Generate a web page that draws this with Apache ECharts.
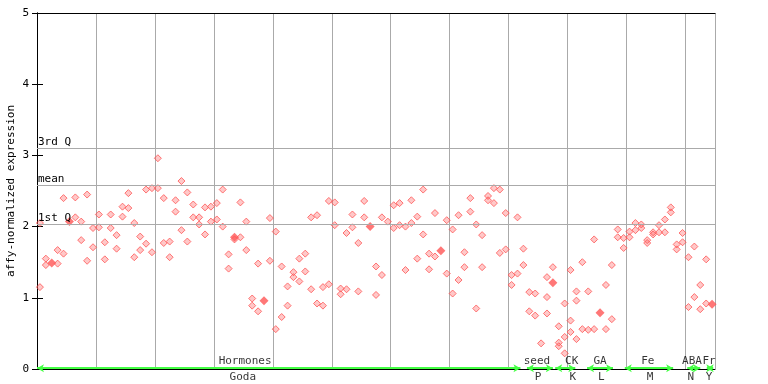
<!DOCTYPE html>
<html><head><meta charset="utf-8">
<script src="https://cdn.jsdelivr.net/npm/echarts@6/dist/echarts.min.js"></script>
<style>html,body{margin:0;padding:0;background:#fff}#c{width:768px;height:384px}</style>
</head><body><div id="c"></div>
<script>
// sample column index (0..114) and expression values of replicate points
const sampleCol = [0,0,1,1,3,3,4,4,6,6,7,7,8,8,9,9,10,10,11,11,12,12,13,13,14,14,15,15,16,16,17,17,18,18,19,19,20,20,21,21,22,22,23,23,24,24,25,25,26,26,27,27,28,28,29,29,30,30,31,31,32,32,33,34,34,35,35,36,36,37,37,39,39,40,40,41,41,42,42,43,43,44,44,45,45,46,46,47,47,48,48,49,49,50,50,51,51,52,52,53,53,54,54,55,55,57,57,58,58,59,60,60,61,61,62,62,63,63,64,64,65,65,66,66,67,67,69,69,70,70,71,71,72,72,73,73,74,74,75,75,76,76,77,77,78,78,79,79,80,80,81,81,82,82,83,83,84,84,85,86,86,86,87,88,88,88,89,89,89,90,90,90,91,91,91,92,92,93,93,94,94,96,96,97,97,98,98,99,99,100,100,101,101,102,102,103,103,104,104,105,105,106,106,107,107,108,108,109,109,110,110,111,111,112,112,113,113];
const sampleVal = [2.05,1.15,1.55,1.46,1.67,1.48,2.40,1.62,2.41,2.13,2.07,1.81,2.45,1.52,1.98,1.71,2.17,1.99,1.78,1.54,2.17,1.98,1.88,1.69,2.28,2.14,2.47,2.26,2.05,1.57,1.86,1.67,2.52,1.76,2.54,1.64,2.96,2.54,2.40,1.77,1.79,1.57,2.37,2.21,2.64,1.95,2.48,1.79,2.31,2.13,2.13,2.03,2.27,1.89,2.28,2.07,2.33,2.10,2.52,2.00,1.61,1.41,1.82,2.34,1.85,2.07,1.67,0.99,0.89,1.48,0.81,2.12,1.52,1.93,0.56,1.44,0.73,1.16,0.89,1.36,1.29,1.55,1.23,1.62,1.37,2.13,1.12,2.16,0.92,1.15,0.89,2.36,1.19,2.34,2.02,1.13,1.05,1.91,1.12,2.17,1.99,1.77,1.09,2.36,2.13,1.44,1.04,2.13,1.32,2.07,2.30,1.98,2.33,2.02,2.00,1.39,2.37,2.05,2.14,1.55,2.52,1.89,1.62,1.40,2.19,1.58,2.09,1.34,1.96,1.06,2.16,1.25,1.64,1.43,2.40,2.21,2.03,0.85,1.88,1.43,2.43,2.37,2.54,2.33,2.52,1.63,2.19,1.68,1.32,1.18,2.13,1.34,1.69,1.46,1.08,0.81,1.06,0.75,0.36,1.29,1.01,0.78,1.43,0.60,0.37,0.32,0.92,0.45,0.22,1.39,0.68,0.52,1.09,0.96,0.42,1.50,0.56,1.09,0.55,1.82,0.56,1.18,0.56,1.46,0.70,1.96,1.85,1.84,1.70,1.93,1.85,2.05,1.95,2.03,1.98,1.81,1.77,1.92,1.89,2.02,1.92,2.10,1.92,2.27,2.20,1.75,1.68,1.91,1.78,1.57,0.87,1.72,1.01,1.18,0.84,1.54,0.92];
// highlighted (filled) samples
const markCol = [2,5,33,38,56,68,87,95,114];
const markVal = [1.49,2.07,1.85,0.96,2.00,1.66,1.21,0.79,0.91];
// reference lines
const refNames = ['3rd Q','mean','1st Q'];
const refVals = [3.10,2.58,2.03];
// group ranges along the x axis (in column units)
const groupStart = [0,83.1,87.9,93.3,99.7,110.3,113.6];
const groupEnd = [82,87.5,91.3,97.7,107.9,112.5,114.7];
const topLabels = ['Hormones','seed','CK','GA','Fe','ABA','Fr'];
const topLabelPos = [35.3,84.8,90.7,95.5,103.6,111.1,114.0];
const bottomLabels = ['Goda','P','K','L','M','N','Y'];
const bottomLabelPos = [34.9,85.0,90.9,95.7,104.0,110.9,114.0];
const yTicks = [0,1,2,3,4,5];

const FONT = 'DejaVu Sans Mono';
const chart = echarts.init(document.getElementById('c'), null, {renderer:'canvas'});
const pts = sampleCol.map((c,i)=>[c+0.5, sampleVal[i]]);
const filled = markCol.map((c,i)=>[c+0.5, markVal[i]]);
const red = '#ff5555';
chart.setOption({
  animation:false,
  grid:{left:37,right:53,top:13,bottom:15,containLabel:false,outerBoundsMode:'none'},
  xAxis:[{type:'value',min:0,max:115,interval:10,
    axisLine:{show:true,onZero:false,lineStyle:{color:'#000',width:1}},
    axisTick:{show:false},axisLabel:{show:false},
    splitLine:{show:true,lineStyle:{color:'#aaaaaa',width:1}}},
    {type:'value',position:'top',min:0,max:115,
    axisLine:{show:true,onZero:false,lineStyle:{color:'#000',width:1}},
    axisTick:{show:false},axisLabel:{show:false},splitLine:{show:false}}],
  yAxis:[{type:'value',min:yTicks[0],max:yTicks[yTicks.length-1],interval:1,
    name:'affy-normalized expression',nameLocation:'middle',nameGap:20,nameMoveOverlap:false,
    nameTextStyle:{fontFamily:FONT,fontSize:11,color:'#000'},
    axisLine:{show:true,lineStyle:{color:'#000'}},
    axisTick:{show:true,inside:true,length:6,lineStyle:{color:'#000'}},
    axisLabel:{fontFamily:FONT,fontSize:11,color:'#000',margin:8},
    splitLine:{show:false}},
    {type:'value',position:'right',min:0,max:5,interval:1,
    axisLine:{show:true,lineStyle:{color:'#000'}},
    axisTick:{show:true,inside:true,length:5,lineStyle:{color:'#000'}},
    axisLabel:{show:false},splitLine:{show:false}}],
  series:[
    {type:'scatter',data:pts,symbol:'diamond',symbolSize:7,
     itemStyle:{color:'rgba(255,85,85,0.4)',borderColor:red,borderWidth:1},
     z:3,
     markLine:{silent:true,symbol:'none',
       lineStyle:{color:'#aaaaaa',width:1,type:'solid'},
       label:{show:true,position:'insideStartTop',distance:[1,1],formatter:p=>p.name,
         fontFamily:FONT,fontSize:11,color:'#000'},
       data:refVals.map((v,i)=>({name:refNames[i],yAxis:v}))}},
    {type:'scatter',data:filled,symbol:'diamond',symbolSize:9,
     itemStyle:{color:red},z:4},
    {type:'scatter',data:[],silent:true,z:5,
     markLine:{silent:true,symbol:['arrow','arrow'],symbolSize:[6,7],
       lineStyle:{color:'#44ff44',width:2,type:'solid'},label:{show:false},
       data:groupStart.map((s,i)=>[{coord:[s,0.012]},{coord:[groupEnd[i],0.012]}])}},
    {type:'scatter',silent:true,symbolSize:1,itemStyle:{color:'transparent'},clip:false,z:6,
     labelLayout:{hideOverlap:false},
     data:topLabels.map((t,i)=>({name:t,value:[topLabelPos[i],0]})),
     label:{show:true,position:'top',distance:2,formatter:p=>p.name,
       fontFamily:FONT,fontSize:11,color:'#000'}},
    {type:'scatter',silent:true,symbolSize:1,itemStyle:{color:'transparent'},clip:false,z:6,
     labelLayout:{hideOverlap:false},
     data:bottomLabels.map((t,i)=>({name:t,value:[bottomLabelPos[i],0]})),
     label:{show:true,position:'bottom',distance:2,formatter:p=>p.name,
       fontFamily:FONT,fontSize:11,color:'#000'}}
  ]
});
</script></body></html>
